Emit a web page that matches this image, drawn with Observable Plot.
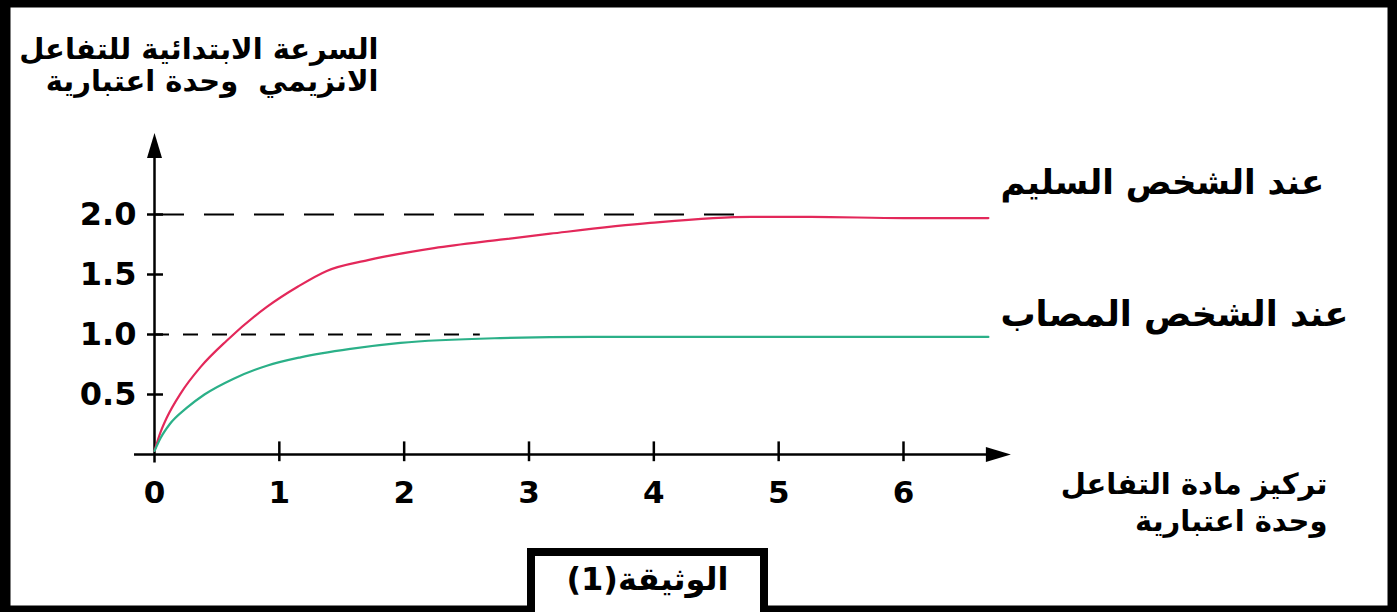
<!DOCTYPE html>
<html><head><meta charset="utf-8">
<script src="https://cdn.jsdelivr.net/npm/d3@7"></script>
<script src="https://cdn.jsdelivr.net/npm/@observablehq/plot@0.6"></script>
<style>
html,body{margin:0;padding:0;background:#fff;overflow:hidden}
#wrap{position:relative;width:1397px;height:612px}
#doc{position:absolute;left:527px;top:548px;width:241px;height:64px;box-sizing:border-box;border:8px solid #000;border-bottom:none;background:#fff;font:bold 32px "DejaVu Sans";text-align:center;line-height:46px;color:#000;direction:rtl}
</style></head><body><div id="wrap"></div>
<script>
// Healthy person (red)
const healthyX = [0, 0.05, 0.10, 0.21, 0.37, 0.58, 0.90, 1.15, 1.38, 1.71, 2.24, 2.77, 3.17, 3.97, 4.78, 5.26, 6.00, 6.68];
const healthyY = [0.03, 0.19, 0.31, 0.51, 0.73, 0.95, 1.23, 1.40, 1.53, 1.62, 1.72, 1.79, 1.84, 1.93, 1.98, 1.98, 1.97, 1.97];
// Sick person (green)
const sickX = [0, 0.05, 0.12, 0.26, 0.40, 0.63, 0.90, 1.17, 1.57, 1.97, 2.77, 3.50, 4.50, 5.50, 6.68];
const sickY = [0.03, 0.14, 0.25, 0.39, 0.50, 0.63, 0.74, 0.81, 0.88, 0.93, 0.97, 0.98, 0.98, 0.98, 0.98];

const xTicks = [1, 2, 3, 4, 5, 6];
const xTickLabels = ["0", "1", "2", "3", "4", "5", "6"];
const yTicks = [0.5, 1.0, 1.5, 2.0];
const yTickLabels = ["0.5", "1.0", "1.5", "2.0"];

const healthyLabel = "عند الشخص السليم";
const sickLabel = "عند الشخص المصاب";
const yTitle = "السرعة الابتدائية للتفاعل\nالانزيمي  وحدة اعتبارية";
const xTitle = "تركيز مادة التفاعل\nوحدة اعتبارية";
const docLabel = "الوثيقة(1)";

// reference (dashed) levels and how far they reach
const guideLevels = [2.0, 1.0];
const guideEnds = [4.79, 2.61];
// axis extents
const xAxisExtent = [-0.16, 6.86];
const yAxisExtent = [-0.07, 2.68];

const healthy = healthyX.map((x, i) => ({x, y: healthyY[i]}));
const sick = sickX.map((x, i) => ({x, y: sickY[i]}));

const arrowHead = {
  draw(ctx) {
    ctx.moveTo(0, 0);
    ctx.lineTo(7.5, 25);
    ctx.lineTo(-7.5, 25);
    ctx.closePath();
  }
};

const RED = "#e3285a";
const GREEN = "#2bb088";

const chart = Plot.plot({
  width: 1397,
  height: 612,
  margin: 0,
  style: {fontFamily: "DejaVu Sans", background: "#fff", color: "#000"},
  x: {domain: [0, 6], range: [154, 903], axis: null},
  y: {domain: [0, 2], range: [454, 214], axis: null},
  marks: [
    // dashed reference lines
    Plot.ruleY([guideLevels[0]], {y: d => d, x1: 0, x2: guideEnds[0], stroke: "#000", strokeWidth: 2, strokeDasharray: "30,20"}),
    Plot.ruleY([guideLevels[1]], {y: d => d, x1: 0, x2: guideEnds[1], stroke: "#000", strokeWidth: 2, strokeDasharray: "15,14"}),
    // axes
    Plot.ruleY([0], {y: d => d, x1: xAxisExtent[0], x2: xAxisExtent[1] - 0.1, stroke: "#000", strokeWidth: 2.5}),
    Plot.ruleX([0], {x: d => d, y1: yAxisExtent[0], y2: yAxisExtent[1] - 0.1, stroke: "#000", strokeWidth: 2.5}),
    Plot.dot([0], {x: xAxisExtent[1], y: d => d, symbol: arrowHead, rotate: 90, fill: "#000", stroke: null}),
    Plot.dot([0], {x: d => d, y: yAxisExtent[1], symbol: arrowHead, rotate: 0, fill: "#000", stroke: null}),
    // ticks
    Plot.ruleX(xTicks, {x: d => d, y1: -0.06, y2: 0.105, stroke: "#000", strokeWidth: 2.5}),
    Plot.ruleY(yTicks, {y: d => d, x1: -0.056, x2: 0.072, stroke: "#000", strokeWidth: 2.5}),
    // tick labels
    Plot.text(xTickLabels, {x: (d, i) => i, y: 0, text: d => d, dy: 39, fontSize: 31, fontWeight: "bold", fill: "#000"}),
    Plot.text(yTickLabels, {x: 0, y: (d, i) => yTicks[i], text: d => d, textAnchor: "end", dx: -18, fontSize: 32, fontWeight: "bold", fill: "#000"}),
    // curves
    Plot.line(healthy, {x: "x", y: "y", stroke: RED, strokeWidth: 2.2, curve: "monotone-x"}),
    Plot.line(sick, {x: "x", y: "y", stroke: GREEN, strokeWidth: 2.2, curve: "monotone-x"}),
    // series labels
    Plot.text(healthy.slice(-1), {x: "x", y: "y", text: () => healthyLabel, textAnchor: "start", dx: 12, dy: -35, fontSize: 34, fontWeight: "bold", fill: "#000"}),
    Plot.text(sick.slice(-1), {x: "x", y: "y", text: () => sickLabel, textAnchor: "start", dx: 12, dy: -22, fontSize: 35, fontWeight: "bold", fill: "#000"}),
    // axis titles
    Plot.text([yTitle], {frameAnchor: "top-left", text: d => d, textAnchor: "end", lineAnchor: "top", dx: 378, dy: 35, lineHeight: 1.12, fontSize: 29, fontWeight: "bold", fill: "#000"}),
    Plot.text([xTitle], {frameAnchor: "top-left", text: d => d, textAnchor: "end", lineAnchor: "middle", dx: 1327, dy: 500, lineHeight: 1.3, fontSize: 29, fontWeight: "bold", fill: "#000"}),
    // outer frame
    Plot.frame({stroke: "#000", strokeWidth: 20, insetTop: -3, insetBottom: -3})
  ]
});
const wrap = document.getElementById("wrap");
wrap.appendChild(chart);
const doc = document.createElement("div");
doc.id = "doc";
doc.textContent = docLabel;
wrap.appendChild(doc);
</script>
</body></html>
